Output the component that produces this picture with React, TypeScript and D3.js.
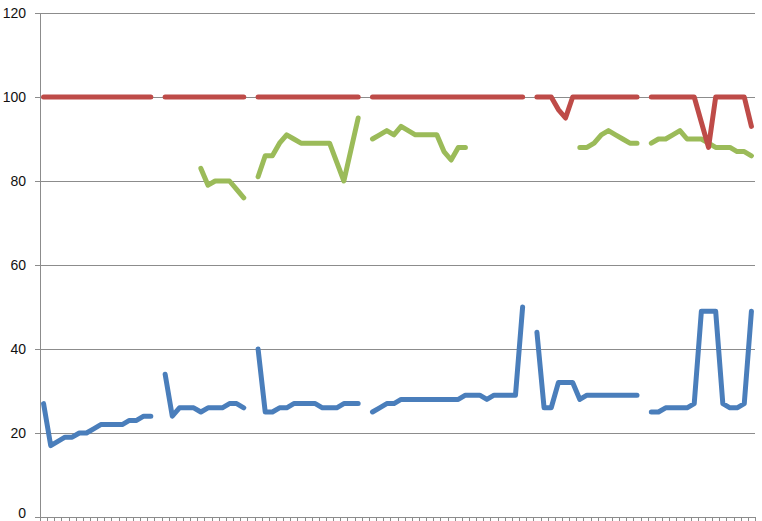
import React, { useEffect, useRef } from "react";
import * as d3 from "d3";

const categories: number[] = Array.from({ length: 100 }, (_, i) => i + 1);

const yTicks: number[] = [0, 20, 40, 60, 80, 100, 120];

const blueValues: (number | null)[] = [
  27, 17, 18, 19, 19, 20, 20, 21, 22, 22, 22, 22, 23, 23, 24, 24,
  null,
  34, 24, 26, 26, 26, 25, 26, 26, 26, 27, 27, 26,
  null,
  40, 25, 25, 26, 26, 27, 27, 27, 27, 26, 26, 26, 27, 27, 27,
  null,
  25, 26, 27, 27, 28, 28, 28, 28, 28, 28, 28, 28, 28, 29, 29, 29, 28, 29, 29, 29, 29, 50,
  null,
  44, 26, 26, 32, 32, 32, 28, 29, 29, 29, 29, 29, 29, 29, 29,
  null,
  25, 25, 26, 26, 26, 26, 27, 49, 49, 49, 27, 26, 26, 27, 49,
];

const redValues: (number | null)[] = [
  100, 100, 100, 100, 100, 100, 100, 100, 100, 100, 100, 100, 100, 100, 100, 100,
  null,
  100, 100, 100, 100, 100, 100, 100, 100, 100, 100, 100, 100,
  null,
  100, 100, 100, 100, 100, 100, 100, 100, 100, 100, 100, 100, 100, 100, 100,
  null,
  100, 100, 100, 100, 100, 100, 100, 100, 100, 100, 100, 100, 100, 100, 100, 100, 100, 100, 100, 100, 100, 100,
  null,
  100, 100, 100, 97, 95, 100, 100, 100, 100, 100, 100, 100, 100, 100, 100,
  null,
  100, 100, 100, 100, 100, 100, 100, 94, 88, 100, 100, 100, 100, 100, 93,
];

const greenValues: (number | null)[] = [
  null, null, null, null, null, null, null, null, null, null, null,
  null, null, null, null, null, null, null, null, null, null, null,
  83, 79, 80, 80, 80, 78, 76,
  null,
  81, 86, 86, 89, 91, 90, 89, 89, 89, 89, 89, 84.5, 80, 87.5, 95,
  null,
  90, 91, 92, 91, 93, 92, 91, 91, 91, 91, 87, 85, 88, 88,
  null, null, null, null, null, null, null, null, null, null, null, null, null, null, null,
  88, 88, 89, 91, 92, 91, 90, 89, 89,
  null,
  89, 90, 90, 91, 92, 90, 90, 90, 89, 88, 88, 88, 87, 87, 86,
];

const seriesColors = ["#4A7EBB", "#9BBB59", "#BE4B48"];

export default function App() {
  const ref = useRef<SVGSVGElement | null>(null);

  useEffect(() => {
    const svg = d3.select(ref.current);
    svg.selectAll("*").remove();

    const left = 40, right = 755, top = 13, bottom = 517;

    const x = d3.scalePoint<number>().domain(categories).range([left, right]).padding(0.5);
    const y = d3.scaleLinear().domain([0, 120]).range([bottom, top]);
    const step = x.step();

    // gridlines
    svg.append("g")
      .selectAll("line")
      .data(yTicks.filter((t) => t !== 0))
      .join("line")
      .attr("x1", left).attr("x2", right)
      .attr("y1", (d) => Math.round(y(d)) + 0.5).attr("y2", (d) => Math.round(y(d)) + 0.5)
      .attr("stroke", "#8C8C8C").attr("stroke-width", 1);

    // y axis line
    svg.append("line")
      .attr("x1", left + 0.5).attr("x2", left + 0.5)
      .attr("y1", top).attr("y2", bottom)
      .attr("stroke", "#8C8C8C");
    // y ticks
    svg.append("g").selectAll("line").data(yTicks).join("line")
      .attr("x1", left - 5).attr("x2", left)
      .attr("y1", (d) => Math.round(y(d)) + 0.5).attr("y2", (d) => Math.round(y(d)) + 0.5)
      .attr("stroke", "#8C8C8C");
    // y labels
    svg.append("g").selectAll("text").data(yTicks).join("text")
      .attr("x", 26).attr("y", (d) => Math.min(y(d) + 5, 517.5))
      .attr("text-anchor", "end")
      .attr("font-family", "'Liberation Sans', Arial, sans-serif")
      .attr("font-size", 14)
      .attr("fill", "#111")
      .text((d) => String(d));

    // x axis line
    svg.append("line")
      .attr("x1", left).attr("x2", right)
      .attr("y1", bottom + 0.5).attr("y2", bottom + 0.5)
      .attr("stroke", "#8C8C8C");
    // x ticks at category boundaries
    const boundaries = [...categories.map((c) => (x(c) as number) - step / 2), right];
    svg.append("g").selectAll("line").data(boundaries).join("line")
      .attr("x1", (d) => Math.round(d) + 0.5).attr("x2", (d) => Math.round(d) + 0.5)
      .attr("y1", bottom).attr("y2", bottom + 5)
      .attr("stroke", "#8C8C8C");

    const line = d3.line<number | null>()
      .defined((d) => d !== null)
      .x((_, i) => x(categories[i]) as number)
      .y((d) => y(d as number));

    const all = [blueValues, greenValues, redValues];
    all.forEach((vals, k) => {
      svg.append("path")
        .attr("d", line(vals) || "")
        .attr("fill", "none")
        .attr("stroke", seriesColors[k])
        .attr("stroke-width", 5)
        .attr("stroke-linejoin", "round")
        .attr("stroke-linecap", "round");
    });
  }, []);

  return (
    <svg
      ref={ref}
      width={762}
      height={521}
      style={{ position: "absolute", left: 0, top: 0, background: "#fff" }}
    />
  );
}
